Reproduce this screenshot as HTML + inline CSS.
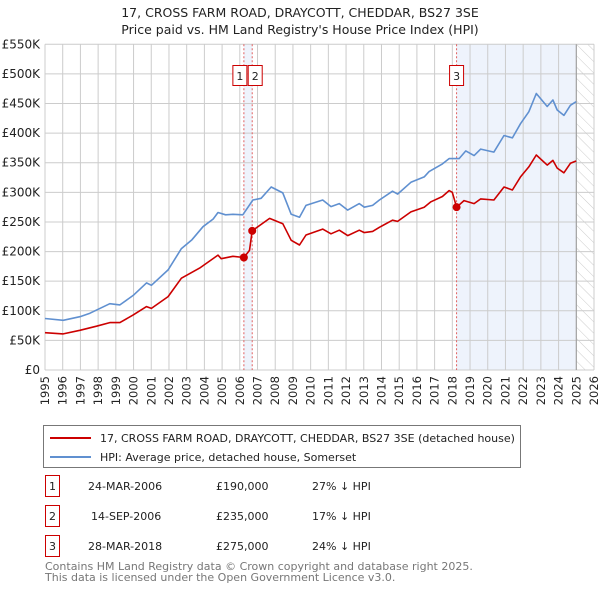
<!DOCTYPE html>
<html><head><meta charset="utf-8"><style>
body{margin:0;background:#fff;font-family:"Liberation Sans","DejaVu Sans",sans-serif;}
svg text{font-family:"DejaVu Sans","Liberation Sans",sans-serif;}
</style></head><body>
<svg id="c" width="600" height="590" xmlns="http://www.w3.org/2000/svg">
<defs><pattern id="hatch" width="8" height="8" patternUnits="userSpaceOnUse" patternTransform="rotate(-45)"><line x1="0" y1="0" x2="0" y2="8" stroke="#ccc" stroke-width="1"/></pattern></defs>
<text x="300" y="17" text-anchor="middle" font-size="12.5" fill="#222">17, CROSS FARM ROAD, DRAYCOTT, CHEDDAR, BS27 3SE</text>
<text x="300" y="34" text-anchor="middle" font-size="12.5" fill="#222">Price paid vs. HM Land Registry's House Price Index (HPI)</text>
<g id="plot"></g>
<g>
<rect x="43.5" y="425.5" width="477" height="42" fill="#fff" stroke="#777"/>
<line x1="50" y1="438" x2="91" y2="438" stroke="#cc0000" stroke-width="2"/>
<text x="100" y="442" font-size="11" fill="#222">17, CROSS FARM ROAD, DRAYCOTT, CHEDDAR, BS27 3SE (detached house)</text>
<line x1="50" y1="457" x2="91" y2="457" stroke="#6090d0" stroke-width="2"/>
<text x="100" y="461" font-size="11" fill="#222">HPI: Average price, detached house, Somerset</text>
</g>
<g font-size="11" fill="#222">
<rect x="45.5" y="475.5" width="14" height="21" fill="none" stroke="#cc0000"/><text x="52.5" y="490" text-anchor="middle">1</text>
<text x="88" y="490">24-MAR-2006</text><text x="216" y="490">£190,000</text><text x="312" y="490">27% ↓ HPI</text>
<rect x="45.5" y="505.5" width="14" height="21" fill="none" stroke="#cc0000"/><text x="52.5" y="520" text-anchor="middle">2</text>
<text x="91" y="520">14-SEP-2006</text><text x="216" y="520">£235,000</text><text x="312" y="520">17% ↓ HPI</text>
<rect x="45.5" y="535.5" width="14" height="21" fill="none" stroke="#cc0000"/><text x="52.5" y="550" text-anchor="middle">3</text>
<text x="88" y="550">28-MAR-2018</text><text x="216" y="550">£275,000</text><text x="312" y="550">24% ↓ HPI</text>
</g>
<text x="45" y="570" font-size="11" fill="#777">Contains HM Land Registry data © Crown copyright and database right 2025.</text>
<text x="45" y="581" font-size="11" fill="#777">This data is licensed under the Open Government Licence v3.0.</text>
</svg>
<script>
const hpiYears=[1995.0,1996.03,1996.97,1997.54,1998.66,1999.23,1999.98,2000.73,2001.01,2001.95,2002.7,2003.3,2003.92,2004.5,2004.77,2005.2,2005.61,2006.17,2006.74,2007.2,2007.77,2008.43,2008.9,2009.37,2009.74,2010.68,2011.15,2011.62,2012.09,2012.75,2013.03,2013.5,2013.88,2014.62,2014.91,2015.66,2016.41,2016.69,2017.44,2017.82,2018.38,2018.76,2019.23,2019.6,2020.35,2020.92,2021.39,2021.85,2022.32,2022.74,2023.36,2023.68,2023.92,2024.3,2024.67,2024.99];
const hpiVals=[87,84,90,96,112,110,126,147,143,169,205,220,242,255,266,262,263,262,287,290,309,299,263,258,278,287,276,281,270,281,275,278,287,302,297,317,326,335,348,357,357,370,362,373,368,396,392,416,436,467,445,456,439,430,447,453];
const priceYears=[1995.0,1996.03,1996.97,1997.91,1998.66,1999.23,1999.98,2000.73,2001.01,2001.95,2002.7,2003.73,2004.77,2004.95,2005.61,2006.23,2006.55,2006.7,2007.68,2008.43,2008.9,2009.37,2009.74,2010.68,2011.15,2011.62,2012.09,2012.75,2013.03,2013.5,2013.88,2014.62,2014.91,2015.66,2016.41,2016.79,2017.44,2017.82,2018.0,2018.24,2018.66,2019.23,2019.6,2020.35,2020.92,2021.39,2021.85,2022.32,2022.74,2023.36,2023.68,2023.92,2024.3,2024.67,2024.99];
const priceVals=[63,61,67,74,80,80,93,107,104,124,155,172,194,188,192,190,202,235,256,247,219,211,228,238,230,236,227,236,232,234,241,253,251,267,275,284,293,303,300,275,286,281,289,287,309,304,326,343,363,346,354,341,333,349,353];
const saleYears=[2006.23,2006.70,2018.24];
const saleVals=[190,235,275];
const saleLabels=["1","2","3"];
const yTicks=[0,50,100,150,200,250,300,350,400,450,500,550];
const xTicks=[1995,1996,1997,1998,1999,2000,2001,2002,2003,2004,2005,2006,2007,2008,2009,2010,2011,2012,2013,2014,2015,2016,2017,2018,2019,2020,2021,2022,2023,2024,2025,2026];
const X0=45,X1=594,Y0=370,Y1=44.3;
const xs=y=>X0+(y-1995)/(2026-1995)*(X1-X0);
const ys=v=>Y0-v/550*(Y0-Y1);
const NS="http://www.w3.org/2000/svg";
const g=document.getElementById('plot');
function mk(t,a,p){const e=document.createElementNS(NS,t);for(const k in a)e.setAttribute(k,a[k]);(p||g).appendChild(e);return e;}
// shaded bands
let b1=mk('rect',{x:xs(saleYears[0]),y:Y1,width:xs(saleYears[1])-xs(saleYears[0]),height:Y0-Y1,fill:'#eef3fc'});


let b2=mk('rect',{x:xs(saleYears[2]),y:Y1,width:xs(2025)-xs(saleYears[2]),height:Y0-Y1,fill:'#eef3fc'});


let h=mk('rect',{x:xs(2025),y:Y1,width:X1-xs(2025),height:Y0-Y1,fill:'url(#hatch)'});


// grid
yTicks.forEach(v=>{
 let l=mk('line',{x1:X0,x2:X1,y1:ys(v),y2:ys(v),stroke:'#ccc','stroke-width':1});
 
 
 let t=mk('text',{x:40,y:ys(v)+4,'text-anchor':'end','font-size':12,fill:'#222'});
 t.textContent=v===0?'£0':'£'+v+'K';
 
 
});
xTicks.forEach(yr=>{
 let l=mk('line',{x1:xs(yr),x2:xs(yr),y1:Y1,y2:Y0,stroke:'#ccc','stroke-width':1});
 
 
 let t=mk('text',{x:0,y:0,'text-anchor':'end','font-size':11.5,fill:'#222',transform:`translate(${xs(yr)+4},376) rotate(-90)`});
 t.textContent=yr;
 
 
});
let vl=mk('line',{x1:xs(2025),x2:xs(2025),y1:Y1,y2:Y0,stroke:'#999','stroke-width':1});


// sale lines
saleYears.forEach((yr,i)=>{
 let l=mk('line',{x1:xs(yr),x2:xs(yr),y1:Y1,y2:Y0,stroke:'#e06060','stroke-width':1,'stroke-dasharray':'2,2'});
 
 
});
function path(xsA,vs,c,name){
 let d=xsA.map((yr,i)=>(i?'L':'M')+xs(yr).toFixed(1)+','+ys(vs[i]).toFixed(1)).join('');
 let p=mk('path',{d:d,fill:'none',stroke:c,'stroke-width':1.6,'stroke-linejoin':'round'});
 
 
}
path(hpiYears,hpiVals,'#6090d0','hpi-line');
path(priceYears,priceVals,'#cc0000','price-line');
saleYears.forEach((yr,i)=>{
 let c=mk('circle',{cx:xs(yr),cy:ys(saleVals[i]),r:4,fill:'#cc0000'});
 
 
 const bx=i===0?xs(yr)-11:(i===1?xs(yr)-4:xs(yr)-7);
 let r=mk('rect',{x:bx,y:65.5,width:14,height:20,fill:'#fff',stroke:'#cc0000'});
 
 
 let t=mk('text',{x:bx+7,y:80,'text-anchor':'middle','font-size':11,fill:'#222'});
 t.textContent=saleLabels[i];
 
 
});
</script>
</body></html>
